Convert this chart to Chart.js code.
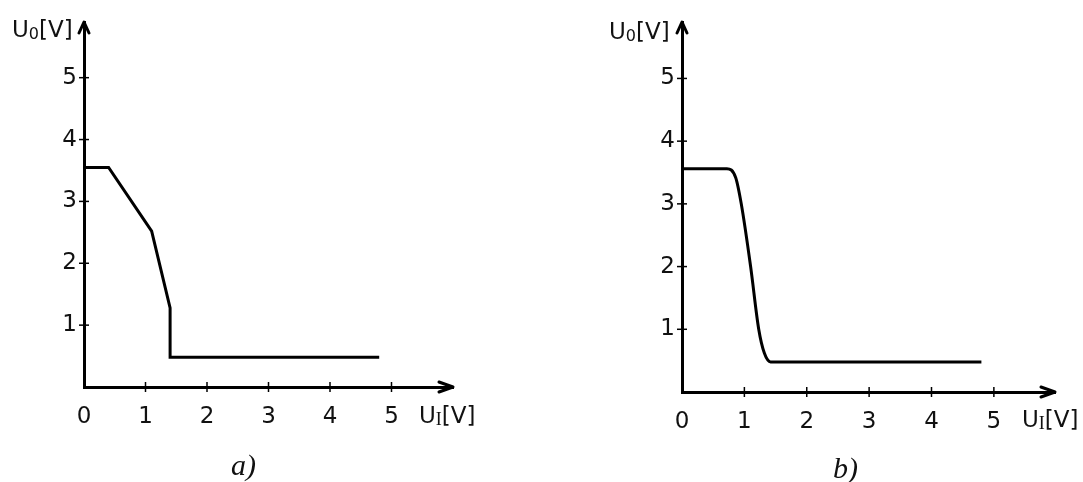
<!DOCTYPE html>
<html>
<head>
<meta charset="utf-8">
<script src="https://cdn.jsdelivr.net/npm/chart.js@4.4.1/dist/chart.umd.min.js"></script>
<style>
  body { margin: 0; background: #fff; width: 1083px; height: 482px; overflow: hidden; position: relative; }
  canvas { position: absolute; top: 0; }
  #chartA { left: 0; }
  #chartB { left: 541px; }
  .lbl { position: absolute; font-family: "DejaVu Sans", sans-serif; font-size: 23px; color: #111; line-height: 1; white-space: nowrap; }
  .lbl sub { font-size: 16px; vertical-align: -2px; }
  .lbl sub.ser { font-family: "Liberation Serif", serif; font-size: 18px; }
  .cap { position: absolute; font-family: "Liberation Serif", serif; font-style: italic; font-size: 30px; color: #111; line-height: 1; }
</style>
</head>
<body>
<canvas id="chartA" width="541" height="482"></canvas>
<canvas id="chartB" width="542" height="482"></canvas>

<div class="lbl" style="left:12px; top:18px;">U<sub>0</sub>[V]</div>
<div class="lbl" style="left:419px; top:404px;">U<sub class="ser">I</sub>[V]</div>
<div class="lbl" style="left:609px; top:20px;">U<sub>0</sub>[V]</div>
<div class="lbl" style="left:1022px; top:408px;">U<sub class="ser">I</sub>[V]</div>
<div class="cap" style="left:231px; top:450px;">a)</div>
<div class="cap" style="left:833px; top:453px;">b)</div>

<script>
// transfer characteristics
const tickValues = [0, 1, 2, 3, 4, 5];

// a) piecewise linear
const inA = [0, 0.40, 1.10, 1.40, 1.40, 4.80];
const outA = [3.55, 3.55, 2.52, 1.28, 0.48, 0.48];

// b) smooth
const inB = [0, 0.72, 0.86, 0.95, 1.10, 1.23, 1.32, 1.42, 4.80];
const outB = [3.56, 3.56, 3.42, 3.00, 2.00, 1.00, 0.62, 0.48, 0.48];

function toPoints(xs, ys) {
    return xs.map((x, i) => ({ x: x, y: ys[i] }));
}

// arrow heads and cross ticks on the axes
const axisArrows = {
    id: 'axisArrows',
    afterDraw(chart) {
        const c = chart.ctx;
        const a = chart.chartArea;
        const sx = chart.scales.x, sy = chart.scales.y;
        const x0 = sx.getPixelForValue(0), y0 = sy.getPixelForValue(0);
        c.save();
        c.strokeStyle = '#000';
        c.lineWidth = 1.5;
        tickValues.forEach(v => {
            if (v > 0) {
                const px = sx.getPixelForValue(v);
                c.beginPath(); c.moveTo(px, y0 - 5); c.lineTo(px, y0 + 5); c.stroke();
                const py = sy.getPixelForValue(v);
                c.beginPath(); c.moveTo(x0 - 5, py); c.lineTo(x0 + 5, py); c.stroke();
            }
        });
        c.lineWidth = 3;
        c.lineCap = 'round';
        c.lineJoin = 'round';
        // up arrow
        c.beginPath();
        c.moveTo(x0 - 5, a.top + 11); c.lineTo(x0, a.top); c.lineTo(x0 + 5, a.top + 11);
        c.stroke();
        // right arrow
        c.beginPath();
        c.moveTo(a.right - 14, y0 - 5); c.lineTo(a.right, y0); c.lineTo(a.right - 14, y0 + 5);
        c.stroke();
        c.restore();
    }
};

function makeChart(id, xs, ys, smooth, pad, xMax, yMax) {
    return new Chart(document.getElementById(id), {
        type: 'scatter',
        data: {
            datasets: [{
                data: toPoints(xs, ys),
                showLine: true,
                borderColor: '#000',
                borderWidth: 3,
                pointRadius: 0,
                fill: false,
                cubicInterpolationMode: smooth ? 'monotone' : 'default',
                tension: 0
            }]
        },
        options: {
            responsive: false,
            animation: false,
            layout: { padding: pad },
            plugins: { legend: { display: false }, tooltip: { enabled: false } },
            scales: {
                x: {
                    type: 'linear',
                    min: 0,
                    max: xMax,
                    afterBuildTicks: s => { s.ticks = tickValues.map(v => ({ value: v })); },
                    afterFit: s => { s.height = 50; },
                    grid: { display: false, drawTicks: false },
                    border: { display: true, color: '#000', width: 3 },
                    ticks: {
                        color: '#111',
                        padding: 16,
                        maxRotation: 0,
                        autoSkip: false,
                        font: { family: 'DejaVu Sans', size: 23 }
                    }
                },
                y: {
                    type: 'linear',
                    min: 0,
                    max: yMax,
                    afterBuildTicks: s => { s.ticks = tickValues.filter(v => v > 0).map(v => ({ value: v })); },
                    afterFit: s => { s.width = 40; },
                    grid: { display: false, drawTicks: false },
                    border: { display: true, color: '#000', width: 3 },
                    ticks: {
                        color: '#111',
                        padding: 7,
                        autoSkip: false,
                        font: { family: 'DejaVu Sans', size: 23 }
                    }
                }
            }
        },
        plugins: [axisArrows]
    });
}

makeChart('chartA', inA, outA, false, { left: 44, right: 88, top: 22, bottom: 45 }, 6.0, 5.9);
makeChart('chartB', inB, outB, true, { left: 101, right: 28, top: 22, bottom: 40 }, 5.98, 5.9);
</script>
</body>
</html>
